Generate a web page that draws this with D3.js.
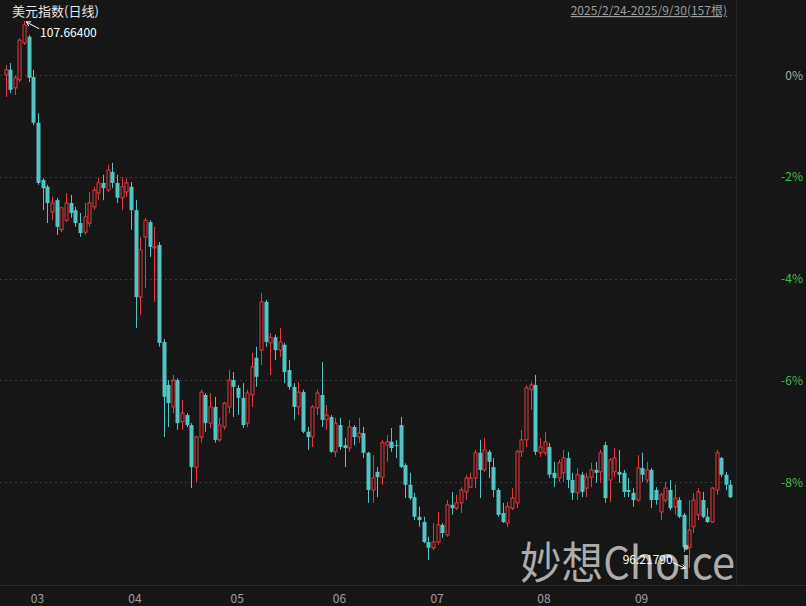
<!DOCTYPE html>
<html><head><meta charset="utf-8">
<script src="https://cdn.jsdelivr.net/npm/d3@7"></script>
<style>
html,body{margin:0;padding:0;background:#161616;}
svg{display:block;}
text{font-family:"Noto Sans CJK SC","Noto Sans",sans-serif;}
</style></head>
<body><div id="chart"></div>
<script>
const title = "美元指数(日线)";
const rangeText = "2025/2/24-2025/9/30(157根)";
const watermark = "妙想Choice";
const startDate = "2025-02-24", endDate = "2025-09-30";
const pctTicks = [0, -2, -4, -6, -8];

const open = [106.53,106.64,106.26,106.43,107.20,107.33,106.49,105.53,104.33,104.19,
103.66,103.91,103.29,103.49,103.85,103.70,103.43,103.24,103.43,103.77,
104.06,104.27,104.12,104.50,104.27,103.96,104.08,104.19,103.70,101.88,
103.14,103.45,102.91,102.97,100.94,100.04,99.58,100.14,99.27,99.41,
99.20,98.32,98.95,99.83,99.24,99.58,98.89,99.16,99.58,100.14,
99.98,99.77,99.24,99.83,100.61,100.77,101.78,100.92,101.04,100.77,
100.88,100.35,100.00,99.58,99.89,99.06,98.95,99.56,99.83,99.31,
99.37,98.64,99.20,98.78,98.72,99.16,98.95,99.03,98.62,97.84,
98.22,98.11,98.78,98.85,98.78,99.20,98.36,97.95,97.69,97.28,
97.17,96.75,96.63,96.75,97.11,96.90,97.53,97.46,97.57,97.80,
97.90,98.09,98.62,98.26,98.64,98.32,97.84,97.36,97.15,97.46,
97.57,98.64,98.89,99.94,100.04,98.62,98.62,98.74,98.20,98.09,
98.20,98.51,98.05,97.78,98.16,97.88,98.11,98.26,98.22,98.78,
98.05,98.22,98.22,98.20,97.84,97.78,97.63,98.30,98.05,98.26,
97.84,97.38,97.63,97.84,97.49,97.63,97.32,96.63,97.07,97.32,
97.63,97.28,97.17,97.84,98.51,98.16,97.95];
const close = [106.64,106.22,106.47,107.26,107.58,106.47,105.53,104.27,104.16,103.85,
103.85,103.35,103.75,103.85,103.64,103.43,103.22,103.56,103.85,104.12,
104.27,104.16,104.54,104.27,103.96,104.19,104.27,103.70,101.88,102.87,
103.49,102.93,102.93,100.92,99.79,99.66,100.14,99.24,99.45,99.20,
98.32,98.95,99.89,99.24,99.58,98.89,99.20,99.66,100.14,100.00,
99.77,99.20,99.87,100.42,100.21,101.78,100.94,101.04,100.77,100.94,
100.31,100.00,99.58,99.89,99.06,98.95,99.58,99.87,99.31,99.41,
98.64,99.24,98.74,98.72,99.16,98.95,99.03,98.62,97.84,98.09,
98.11,98.83,98.85,98.72,98.76,98.32,97.95,97.67,97.28,97.21,
96.75,96.63,96.75,97.11,96.94,97.53,97.46,97.57,97.84,98.09,
98.09,98.62,98.26,98.68,98.43,97.84,97.32,97.17,97.49,97.67,
98.64,98.89,99.98,100.04,98.64,98.74,98.85,98.16,98.09,98.41,
98.51,98.05,97.78,98.16,97.80,98.11,98.26,98.20,98.62,97.67,
98.47,98.51,98.16,97.80,97.80,97.63,98.30,98.16,98.26,97.63,
97.63,97.74,97.88,97.46,97.67,97.28,96.65,97.00,97.63,97.80,
97.28,97.17,97.88,98.62,98.16,97.95,97.69];
const high = [106.74,106.78,106.53,107.30,107.664,107.37,106.64,105.73,104.37,104.23,
103.98,103.96,103.77,104.06,104.02,103.77,103.64,103.85,104.08,104.19,
104.39,104.44,104.65,104.69,104.44,104.39,104.37,104.29,103.91,103.14,
103.54,103.49,103.35,103.03,101.00,100.14,100.25,100.18,99.73,99.45,
99.24,98.97,99.94,99.87,99.87,99.79,99.35,99.68,100.35,100.31,
100.04,100.08,99.94,100.71,100.84,101.97,101.82,101.13,101.09,101.23,
100.92,100.56,100.08,100.10,99.94,99.16,99.62,99.94,100.52,99.62,
99.41,99.35,99.35,98.93,99.31,99.20,99.35,99.16,98.64,98.57,
98.32,98.89,98.99,99.14,98.89,99.37,98.40,98.20,97.78,97.49,
97.28,96.86,97.15,97.38,97.15,97.63,97.80,97.74,97.90,98.16,
98.20,98.68,98.89,98.93,98.68,98.51,97.88,97.57,97.59,97.88,
98.68,99.10,100.04,100.10,100.25,98.93,99.06,98.83,98.43,98.47,
98.68,98.64,98.20,98.30,98.22,98.20,98.41,98.43,98.68,98.85,
98.51,98.72,98.68,98.26,98.09,97.88,98.57,98.62,98.43,98.30,
97.90,97.78,98.01,98.05,97.95,97.69,97.36,97.63,97.78,97.88,
97.80,97.46,97.90,98.68,98.53,98.22,98.05];
const low = [106.07,106.15,106.11,106.38,107.16,106.38,105.48,104.23,103.70,103.43,
103.49,103.18,103.24,103.45,103.54,103.35,103.14,103.18,103.35,103.70,
103.91,103.91,104.08,104.16,103.85,103.70,103.98,103.29,101.23,101.51,
102.07,102.72,101.78,100.84,98.95,99.16,99.45,99.10,99.10,99.16,
97.88,98.00,98.83,99.06,99.14,98.83,98.85,99.10,99.45,99.37,
99.41,99.14,99.16,99.58,100.00,100.46,100.84,100.25,100.56,100.63,
100.08,99.94,99.31,99.41,99.03,98.68,98.74,99.41,99.16,99.10,
98.62,98.53,98.68,98.32,98.64,98.78,98.83,98.51,97.57,97.57,
97.69,97.95,98.43,98.64,98.51,98.30,97.67,97.63,97.21,97.07,
96.73,96.37,96.58,96.69,96.84,96.86,97.32,97.42,97.36,97.63,
97.88,97.88,97.67,98.22,98.09,97.69,97.28,97.15,97.07,97.42,
97.46,98.53,98.74,99.52,98.57,98.53,98.57,98.09,97.90,98.01,
98.01,97.88,97.63,97.63,97.69,97.69,97.90,97.99,97.99,97.57,
97.59,98.11,97.99,97.69,97.69,97.49,97.59,98.01,97.99,97.46,
97.53,97.21,97.57,97.42,97.32,97.25,96.54,96.2179,96.94,97.21,
97.25,97.15,97.15,97.74,98.11,97.84,97.67];

// trading days (all weekdays) in range
const days = d3.timeDay.range(new Date(startDate + "T00:00:00"), d3.timeDay.offset(new Date(endDate + "T00:00:00"), 1))
  .filter(d => d.getDay() !== 0 && d.getDay() !== 6);
const data = days.map((d, i) => ({date: d, o: open[i], h: high[i], l: low[i], c: close[i], i}));

const W = 806, H = 606;
const plotRight = 736, axisY = 585;
const base = open[0];
const pct = v => (v / base - 1) * 100;

const svg = d3.select("#chart").append("svg").attr("width", W).attr("height", H);
svg.append("rect").attr("width", W).attr("height", H).attr("fill", "#161616");

const x = d3.scaleBand().domain(d3.range(data.length)).range([3.2, 732.8]).padding(0);
const cx = i => x(i) + x.bandwidth() / 2;
const y = d3.scaleLinear().domain([0, -8]).range([75, 482]);

// grid lines
svg.append("g").selectAll("line").data(pctTicks).join("line")
  .attr("x1", 0).attr("x2", plotRight)
  .attr("y1", d => Math.round(y(d)) + 0.5).attr("y2", d => Math.round(y(d)) + 0.5)
  .attr("stroke", "#3a3a3a").attr("stroke-dasharray", "2,3");

// frame lines
svg.append("line").attr("x1", 0).attr("x2", W).attr("y1", axisY + 0.5).attr("y2", axisY + 0.5).attr("stroke", "#2e2e2e");
svg.append("line").attr("x1", plotRight + 0.5).attr("x2", plotRight + 0.5).attr("y1", 0).attr("y2", axisY).attr("stroke", "#262626");

// right axis
const yAxis = d3.axisRight(y).tickValues(pctTicks).tickSize(0).tickFormat(d => d + "%");
const ga = svg.append("g").attr("transform", `translate(${W - 3},0)`).call(yAxis);
ga.select(".domain").remove();
ga.selectAll("text").attr("x", 0).attr("text-anchor", "end").attr("dy", "0.35em")
  .attr("font-size", 12).attr("fill", d => d === 0 ? "#a8a8a8" : "#3fbf4a");

// bottom month axis
const monthStarts = data.filter((d, i) => i > 0 && d.date.getMonth() !== data[i - 1].date.getMonth());
const xAxis = d3.axisBottom(x).tickValues(monthStarts.map(d => d.i)).tickSize(0)
  .tickFormat(i => d3.timeFormat("%m")(data[i].date));
const gx = svg.append("g").attr("transform", `translate(0,${axisY})`).call(xAxis);
gx.select(".domain").remove();
gx.selectAll(".tick").attr("transform", d => `translate(${cx(d) + 2},0)`);
gx.selectAll("text").attr("text-anchor", "start").attr("y", 9).attr("dy", "0.71em")
  .attr("font-size", 12).attr("fill", "#a0a0a0");

// candles
const up = "#e8373e", down = "#52c4c4";
const g = svg.append("g");
g.selectAll("line.wick").data(data).join("line").attr("class", "wick")
  .attr("x1", d => Math.round(cx(d.i)) + 0.5).attr("x2", d => Math.round(cx(d.i)) + 0.5)
  .attr("y1", d => y(pct(d.h))).attr("y2", d => y(pct(d.l)))
  .attr("stroke", d => d.c >= d.o ? up : down).attr("stroke-width", 1);
g.selectAll("rect.body").data(data).join("rect").attr("class", "body")
  .attr("x", d => d.c >= d.o ? Math.round(cx(d.i)) - 1 : Math.round(cx(d.i)) - 1.5 + 0.5 - 0.5)
  .attr("y", d => y(pct(Math.max(d.o, d.c))))
  .attr("width", d => d.c >= d.o ? 3 : 4)
  .attr("height", d => Math.max(1, y(pct(Math.min(d.o, d.c))) - y(pct(Math.max(d.o, d.c)))))
  .attr("fill", d => d.c >= d.o ? "#161616" : down)
  .attr("stroke", d => d.c >= d.o ? up : "none")
  .attr("stroke-width", 1);

// title
svg.append("text").attr("x", 12).attr("y", 16).attr("font-size", 13).attr("fill", "#e6e6e6").text(title);

// range text (underlined)
const rt = svg.append("text").attr("x", 727).attr("y", 15).attr("text-anchor", "end")
  .attr("font-size", 12).attr("fill", "#9c9c9c").attr("text-decoration", "underline").text(rangeText);

// watermark
svg.append("text").attr("x", 520).attr("y", 579).attr("font-size", 44)
  .attr("fill", "#c8c8c8").attr("fill-opacity", 0.85)
  .attr("textLength", 215).attr("lengthAdjust", "spacingAndGlyphs").text(watermark);

// high / low annotations
const fmt = d3.format(".5f");
const hiI = d3.maxIndex(high), loI = d3.minIndex(low);
const hx = cx(hiI), hy = y(pct(high[hiI]));
const ann = svg.append("g").attr("stroke", "#ffffff").attr("fill", "none");
function arrow(x1, y1, x2, y2) {
  ann.append("line").attr("x1", x1).attr("y1", y1).attr("x2", x2).attr("y2", y2).attr("stroke-width", 1);
  const a = Math.atan2(y2 - y1, x2 - x1), L = 5;
  ann.append("path").attr("d", `M${x2 - L * Math.cos(a - 0.5)},${y2 - L * Math.sin(a - 0.5)}L${x2},${y2}L${x2 - L * Math.cos(a + 0.5)},${y2 - L * Math.sin(a + 0.5)}`);
}
arrow(hx + 15, hy + 8, hx + 2, hy + 1);
svg.append("text").attr("x", hx + 16).attr("y", hy + 16).attr("font-size", 12).attr("fill", "#ffffff").text(fmt(high[hiI]));

const lx = cx(loI), ly = y(pct(low[loI]));
arrow(lx - 16, ly - 5, lx - 3, ly + 1);
svg.append("text").attr("x", lx - 16).attr("y", ly - 3).attr("text-anchor", "end").attr("font-size", 12).attr("fill", "#ffffff").text(fmt(low[loI]));
</script></body></html>
